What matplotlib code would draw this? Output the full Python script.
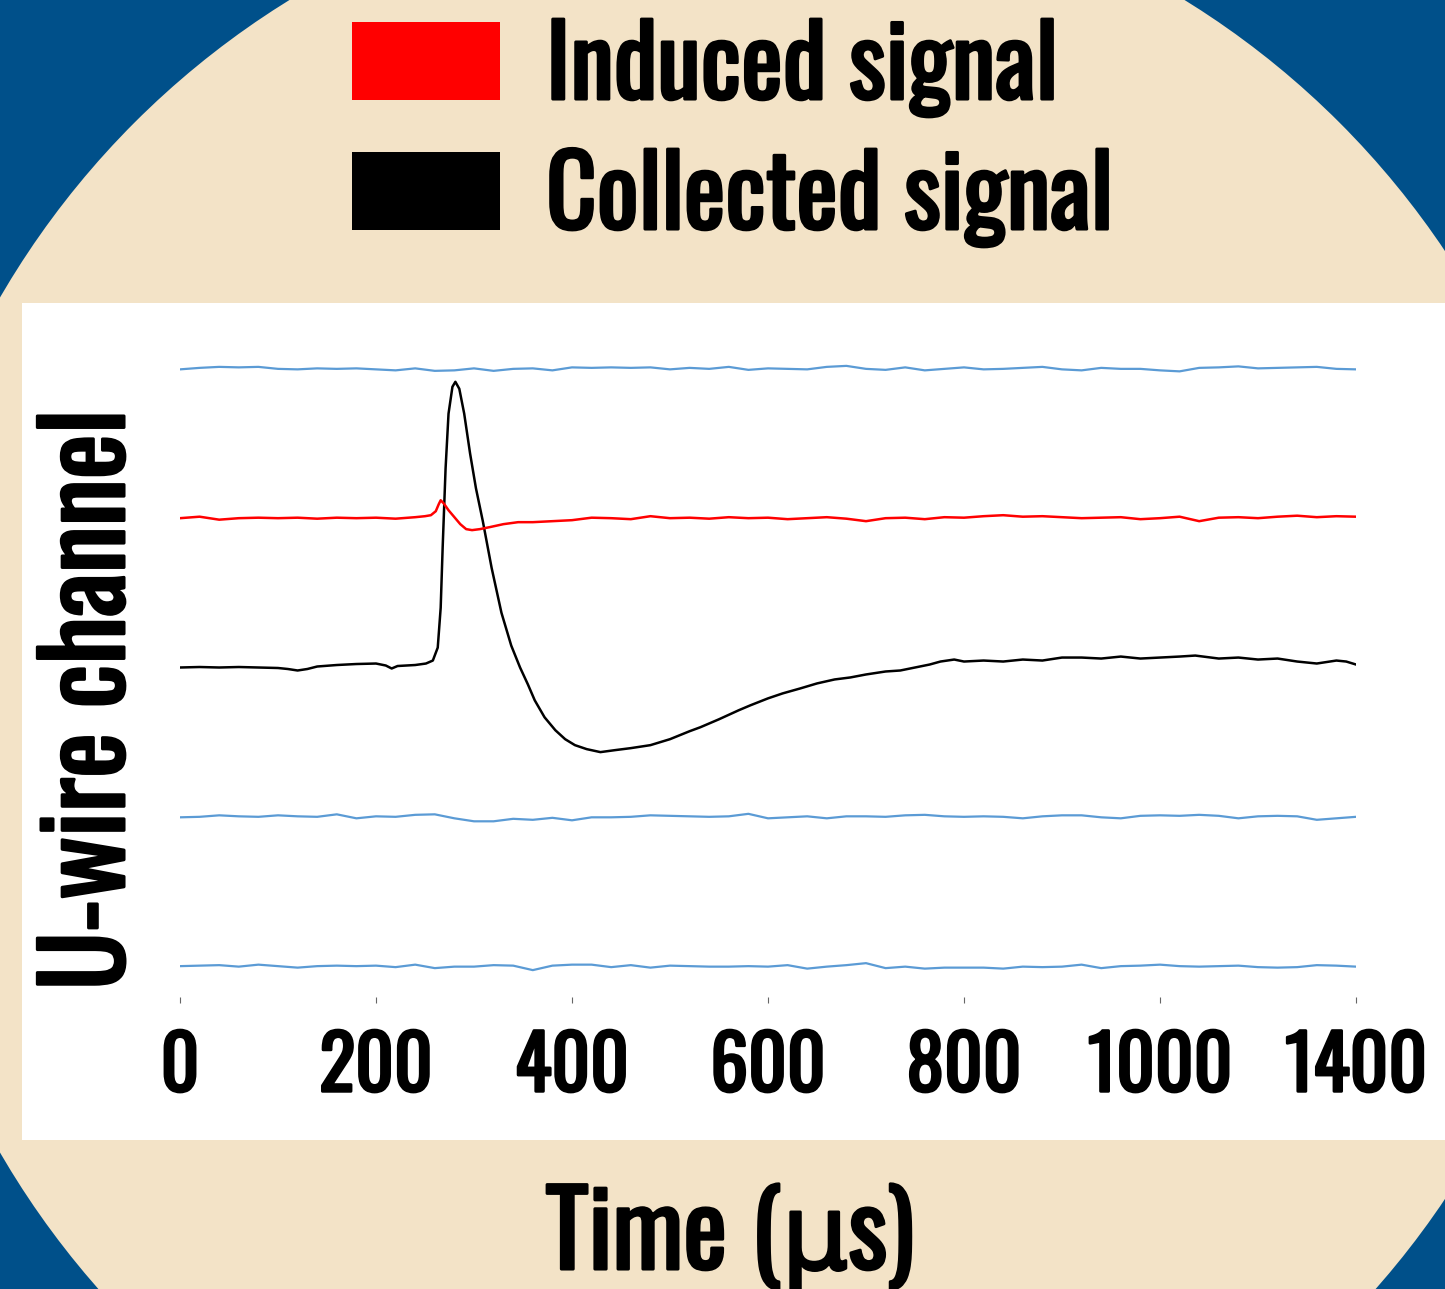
import numpy as np
import matplotlib
matplotlib.use("Agg")
import matplotlib.pyplot as plt
import matplotlib.patheffects as pe
from matplotlib.patches import Circle, Rectangle

# ---- data (amplitudes in arbitrary units, channels offset by 150)
t_grid = [0, 20, 40, 60, 80, 100, 120, 140, 160, 180, 200, 220, 240, 260, 280, 300,
          320, 340, 360, 380, 400, 420, 440, 460, 480, 500, 520, 540, 560, 580, 600,
          620, 640, 660, 680, 700, 720, 740, 760, 780, 800, 820, 840, 860, 880, 900,
          920, 940, 960, 980, 1000, 1020, 1040, 1060, 1080, 1100, 1120, 1140, 1160,
          1180, 1200]

blue_ch4 = [-0.5, 1, 2, 1.5, 2, 0, -0.5, 0.5, 0, 0.5, -0.5, -1.5, 0.5, -2, -1.5, 0.5,
            -2, 0, 0.5, -1.5, 1.5, 1, 1.5, 1, 1.5, -0.5, 1, 0, 2, -1, 0.5,
            0, -0.5, 2, 3, 0, -1, 1.5, -1.5, 0, 1.5, -0.5, 0, 1, 2, -0.5,
            -1.5, 1, 0, 0, -1.5, -2.5, 1, 1.5, 2.5, 0.5, 1, 1.5, 2,
            0, -0.5]

blue_ch1 = [-0.5, 0, 1.5, 0.5, 0, 1.5, 0.5, 0, 2.5, -1.5, 0.5, 0, 2, 2.5, -1.5, -4.5,
            -4.5, -2, -3, -1, -3.5, -0.5, -0.5, 0, 1.5, 1, 0.5, 0, 0.5, 3, -1.5,
            -0.5, 0.5, -1.5, 0.5, 0.5, 0, 1.5, 2, 0.5, 0, 0.5, 0, -1.5, 0.5, 1.5,
            1.5, -0.5, -1.5, 1, 1.5, 1, 2, 1, -1.5, 0.5, 1, 0.5, -3,
            -1.5, 0]

blue_ch0 = [0, 0.5, 1, -0.5, 1.5, 0, -1.5, 0, 0.5, 0, 0.5, -1, 1.5, -2, -0.5, -0.5,
            1, 0.5, -4, 0.5, 1.5, 1.5, -1, 1, -1.5, 0.5, 0, -0.5, -0.5, 0, -0.5,
            1, -2.5, -0.5, 1, 3, -2, -0.5, -2.5, -1.5, -1.5, -1.5, -2.5, -0.5, -1, -0.5,
            1.5, -2, 0, 0.5, 1.5, 0, -0.5, 0, 0.5, -1, -1.5, -1, 1,
            0.5, -0.5]

t_red = [0, 20, 40, 60, 80, 100, 120, 140, 160, 180, 200, 220, 240, 250, 256, 261,
         264, 266, 269, 274, 280, 286, 292, 298, 306, 316, 330, 345, 360, 380, 400,
         420, 440, 460, 480, 500, 520, 540, 560, 580, 600, 620, 640, 660, 680, 700,
         720, 740, 760, 780, 800, 820, 840, 860, 880, 900, 920, 940, 960, 980, 1000,
         1020, 1040, 1060, 1080, 1100, 1120, 1140, 1160, 1180, 1200]
red_sig = [0, 1.5, -1.5, 0, 0.5, 0, 0.5, -0.5, 0.5, 0, 0.5, -0.5, 1, 2, 3, 7,
           14, 18, 15, 8, 1, -6, -11, -12, -11, -9, -6, -4, -4, -3, -2,
           0.5, 0, -1, 2, 0, 0.5, -0.5, 1, 0, 0.5, -1, 0, 1, -0.5, -3,
           0, 0.5, -1, 1, 0.5, 2, 3, 1.5, 2, 1, 0, 0.5, 1, -1, 0,
           1.5, -3, 0.5, 1, 0, 1.5, 2.5, 1, 2, 1.5]

t_black = [0, 20, 40, 60, 80, 100, 110, 120, 130, 140, 160, 180, 200, 210, 216, 222,
           240, 251, 258, 263, 266, 268, 271, 274, 278, 281, 285, 290, 296, 302, 309,
           318, 328, 338, 347, 355, 362, 372, 383, 393, 403, 415, 429, 444, 460, 480,
           500, 520, 531, 550, 570, 582, 600, 615, 633, 650, 668, 684, 700, 720, 735,
           750, 765, 776, 790, 800, 820, 840, 860, 880, 900, 920, 940, 960, 980, 1000,
           1020, 1036, 1060, 1080, 1100, 1120, 1140, 1160, 1180, 1190, 1200]
black_sig = [0, 0.5, 0, 0.5, 0, -0.5, -1.5, -3, -1.5, 1, 2.5, 3.5, 4, 2, -1, 1.5,
             2.5, 4, 7, 20, 60, 120, 200, 255, 282, 287, 280, 255, 215, 180, 147,
             100, 55, 22, 0, -17, -33, -50, -63, -72, -78, -82, -85, -83, -81, -78,
             -72, -64, -60, -52, -43, -38, -31, -26, -21, -16, -12, -10, -7, -4, -3,
             0, 3, 6, 8, 6, 7, 6, 8, 7, 10, 10, 9, 11, 9, 10,
             11, 12, 9, 10, 8, 9, 6, 4, 7, 6, 3]

channel_offset = [0, 150, 300, 450, 600]
x_ticks = [0, 200, 400, 600, 800, 1000, 1200]
x_ticklabels = ['0', '200', '400', '600', '800', '1000', '1400']
legend_labels = ['Induced signal', 'Collected signal']
legend_colors = ['#ff0000', '#000000']

BLUE_BG = '#00508a'
BEIGE = '#f3e3c7'
TRACE_BLUE = '#5b9bd5'

plt.rcParams['font.family'] = ['Oswald', 'League Gothic', 'DejaVu Sans']
plt.rcParams['font.weight'] = 'bold'

# the poster font is heavier than Oswald regular: thicken glyphs a bit with a stroke
def heavy(w):
    return [pe.withStroke(linewidth=w, foreground='black')]

W, H = 1445, 1289
fig = plt.figure(figsize=(W / 100, H / 100), dpi=100)
fig.patch.set_facecolor(BLUE_BG)

# background: beige disc + white panel, in pixel coords
bg = fig.add_axes([0, 0, 1, 1], zorder=0)
bg.set_xlim(0, W)
bg.set_ylim(H, 0)
bg.axis('off')
bg.add_patch(Circle((737, 725), 852, color=BEIGE, lw=0))
bg.add_patch(Rectangle((22, 303), W - 22, 837, color='white', lw=0))

# legend boxes
for i, (lab, col) in enumerate(zip(legend_labels, legend_colors)):
    y0 = 22 + i * 130
    bg.add_patch(Rectangle((352, y0), 148, 78, color=col, lw=0))
    bg.text(546, y0 + 77, lab, fontsize=71, va='baseline', ha='left',
            path_effects=heavy(2.2))

# ---- main plot
ax = fig.add_axes([180 / W, (H - 997) / H, 1176 / W, 657 / H], zorder=1)
ax.patch.set_alpha(0)

ax.plot(t_grid, np.array(blue_ch0) + channel_offset[0], color=TRACE_BLUE, lw=1.6)
ax.plot(t_grid, np.array(blue_ch1) + channel_offset[1], color=TRACE_BLUE, lw=1.6)
ax.plot(t_black, np.array(black_sig) + channel_offset[2], color='black', lw=1.8)
ax.plot(t_red, np.array(red_sig) + channel_offset[3], color='red', lw=1.8)
ax.plot(t_grid, np.array(blue_ch4) + channel_offset[4], color=TRACE_BLUE, lw=1.6)

ax.set_xlim(0, 1200)
ax.set_ylim(-31, 629)
for s in ax.spines.values():
    s.set_visible(False)
ax.set_yticks([])
ax.set_xticks(x_ticks)
ax.set_xticklabels(x_ticklabels)
ax.tick_params(axis='x', length=4, width=0.8, color='#666666', pad=20, labelsize=54)
for lbl in ax.get_xticklabels():
    lbl.set_path_effects(heavy(2))

ax.set_xlabel('Time (μs)', fontsize=75, va='baseline', path_effects=heavy(2.2))
ax.xaxis.set_label_coords((730 - 180) / 1176, (997 - 1269) / 657)
ax.set_ylabel('U-wire channel', fontsize=77, va='baseline', path_effects=heavy(2.2))
ax.yaxis.set_label_coords((124 - 180) / 1176, (997 - 700) / 657)

fig.savefig('out.png', dpi=100, facecolor=BLUE_BG)
